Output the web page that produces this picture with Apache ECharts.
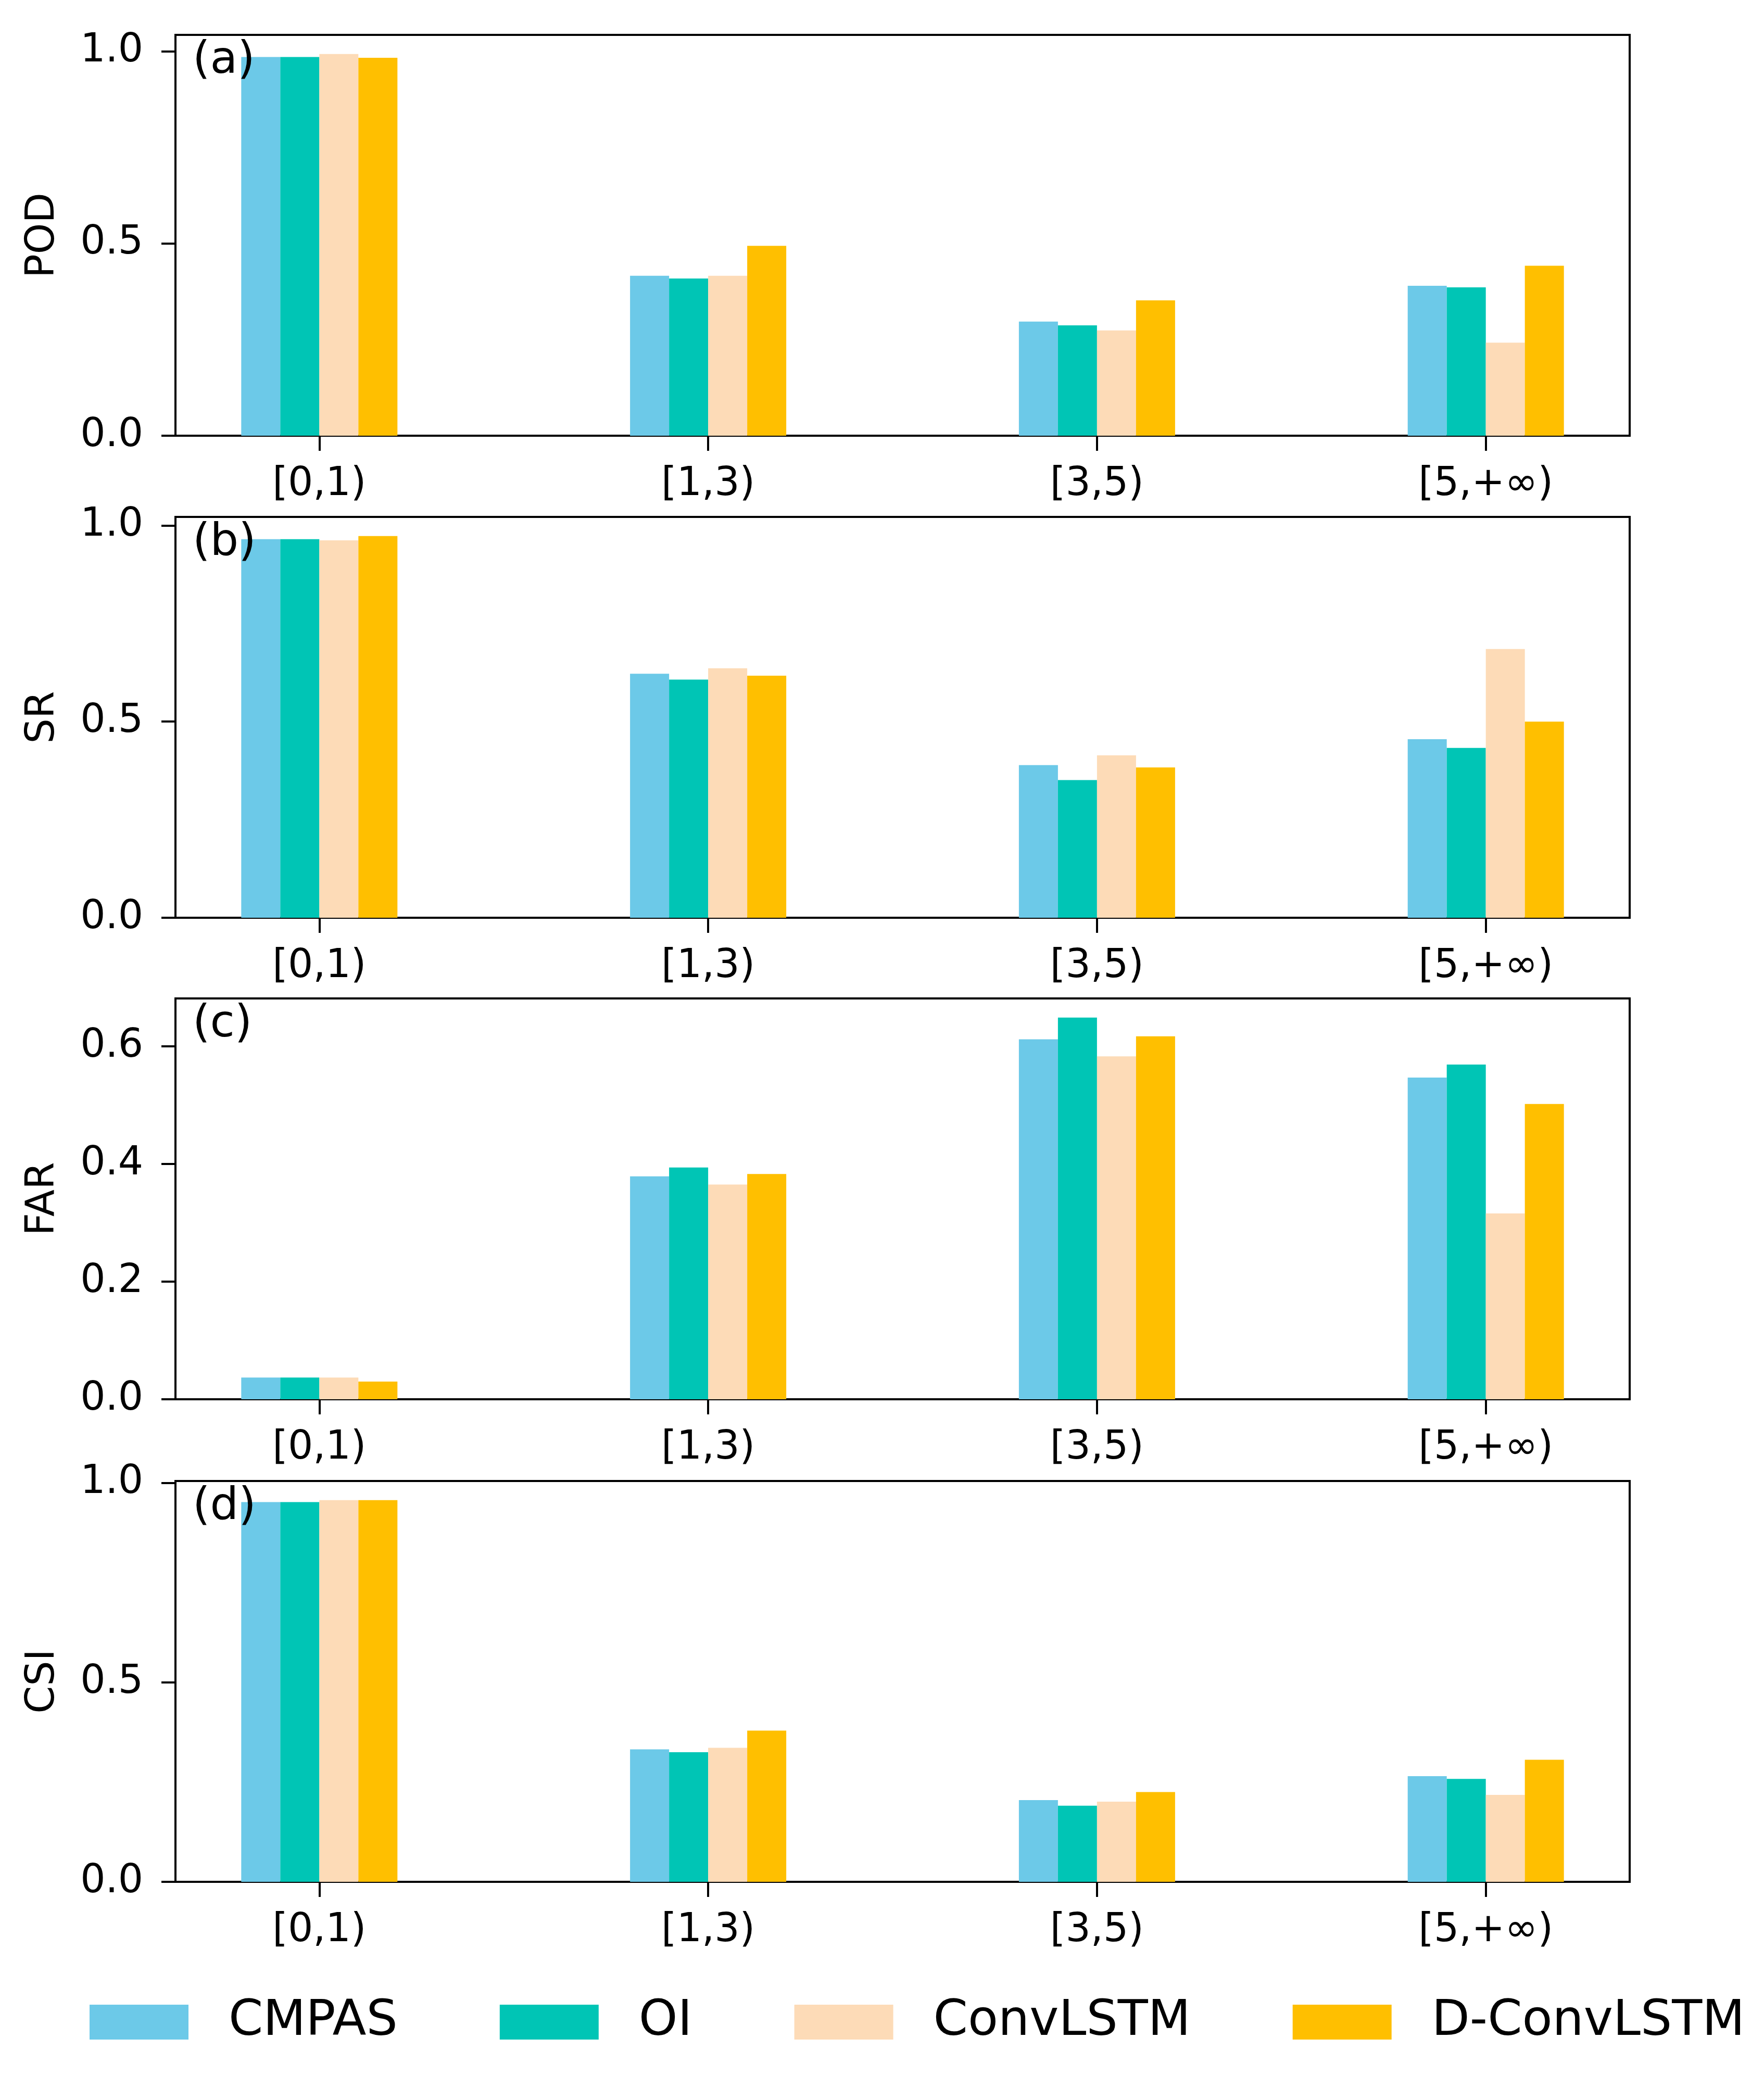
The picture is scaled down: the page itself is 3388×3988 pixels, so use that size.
<!DOCTYPE html>
<html>
<head>
<meta charset="utf-8">
<script src="https://cdn.jsdelivr.net/npm/echarts@6/dist/echarts.min.js"></script>
<style>
html,body{margin:0;padding:0;background:#fff;}
#chart{width:3388px;height:3988px;}
</style>
</head>
<body>
<div id="chart"></div>
<script>
// ---- data ----
const categories = ['[0,1)', '[1,3)', '[3,5)', '[5,+\u221e)'];
const seriesNames = ['CMPAS', 'OI', 'ConvLSTM', 'D-ConvLSTM'];
const metricNames = ['POD', 'SR', 'FAR', 'CSI'];
const panelLabels = ['(a)', '(b)', '(c)', '(d)'];

const POD_CMPAS = [0.985, 0.416, 0.297, 0.390];
const POD_OI = [0.985, 0.409, 0.287, 0.386];
const POD_ConvLSTM = [0.993, 0.416, 0.274, 0.242];
const POD_DConvLSTM = [0.983, 0.494, 0.352, 0.442];

const SR_CMPAS = [0.965, 0.622, 0.389, 0.455];
const SR_OI = [0.965, 0.607, 0.351, 0.433];
const SR_ConvLSTM = [0.962, 0.636, 0.414, 0.685];
const SR_DConvLSTM = [0.973, 0.617, 0.383, 0.500];

const FAR_CMPAS = [0.037, 0.379, 0.612, 0.547];
const FAR_OI = [0.037, 0.394, 0.649, 0.569];
const FAR_ConvLSTM = [0.037, 0.365, 0.583, 0.316];
const FAR_DConvLSTM = [0.030, 0.383, 0.617, 0.502];

const CSI_CMPAS = [0.952, 0.332, 0.205, 0.265];
const CSI_OI = [0.952, 0.325, 0.191, 0.258];
const CSI_ConvLSTM = [0.957, 0.336, 0.201, 0.218];
const CSI_DConvLSTM = [0.957, 0.379, 0.225, 0.306];

const yTicksA = [0, 0.5, 1.0];
const yTicksB = [0, 0.5, 1.0];
const yTicksC = [0, 0.2, 0.4, 0.6];
const yTicksD = [0, 0.5, 1.0];

// ---- build ----
const panels = [
  [POD_CMPAS, POD_OI, POD_ConvLSTM, POD_DConvLSTM],
  [SR_CMPAS, SR_OI, SR_ConvLSTM, SR_DConvLSTM],
  [FAR_CMPAS, FAR_OI, FAR_ConvLSTM, FAR_DConvLSTM],
  [CSI_CMPAS, CSI_OI, CSI_ConvLSTM, CSI_DConvLSTM]
];
const yTicks = [yTicksA, yTicksB, yTicksC, yTicksD];
const colors = ['#6CC9E8', '#00C5B5', '#FDDBB7', '#FFBF00'];
const FONT = 'DejaVu Sans';
const gridTops = [67, 993, 1918, 2845];
const gridH = 770;

const grids = [], xAxes = [], yAxes = [], series = [], graphics = [];
panels.forEach((vals, p) => {
  grids.push({left: 337, right: 258, top: gridTops[p], height: gridH,
    show: true, borderColor: '#000', borderWidth: 4, backgroundColor: 'transparent'});
  xAxes.push({
    type: 'value', gridIndex: p, min: -0.37, max: 3.37,
    axisLine: {show: true, onZero: false, lineStyle: {color: '#000', width: 4}},
    axisTick: {show: true, length: 29, lineStyle: {color: '#000', width: 4}, customValues: [0, 1, 2, 3]},
    axisLabel: {show: true, customValues: [0, 1, 2, 3], margin: 56,
      formatter: v => categories[Math.round(v)],
      fontFamily: FONT, fontSize: 76, color: '#000'},
    splitLine: {show: false}
  });
  const allVals = [].concat(...vals);
  const ymax = Math.max(...allVals) * 1.05;
  yAxes.push({
    type: 'value', gridIndex: p, min: 0, max: ymax,
    name: metricNames[p], nameLocation: 'middle', nameRotate: 90, nameGap: 216,
    nameTextStyle: {fontFamily: FONT, fontSize: 76, color: '#000'},
    axisLine: {show: true, onZero: false, lineStyle: {color: '#000', width: 4}},
    axisTick: {show: true, length: 27, lineStyle: {color: '#000', width: 4}, customValues: yTicks[p]},
    axisLabel: {show: true, customValues: yTicks[p], margin: 62,
      formatter: v => v.toFixed(1),
      fontFamily: FONT, fontSize: 76, color: '#000'},
    splitLine: {show: false}
  });
  vals.forEach((arr, s) => {
    series.push({
      type: 'bar', name: seriesNames[s], xAxisIndex: p, yAxisIndex: p,
      barWidth: 75, barGap: '0%',
      itemStyle: {color: colors[s]},
      data: arr.map((v, i) => [i, v]),
      animation: false
    });
  });
  graphics.push({
    type: 'text', left: 370, top: gridTops[p] + 8, z: 100,
    style: {text: panelLabels[p], fontFamily: FONT, fontSize: 86, fill: '#000'}
  });
});

const chart = echarts.init(document.getElementById('chart'), null, {renderer: 'canvas'});
chart.setOption({
  backgroundColor: '#fff',
  animation: false,
  grid: grids,
  xAxis: xAxes,
  yAxis: yAxes,
  series: series,
  graphic: graphics,
  legend: {
    data: seriesNames, left: 167, top: 3832,
    icon: 'rect', itemWidth: 190, itemHeight: 67, itemGap: 196,
    textStyle: {fontFamily: FONT, fontSize: 95, color: '#000', padding: [0, 0, 0, 72], lineHeight: 92}
  }
});
</script>
</body>
</html>
